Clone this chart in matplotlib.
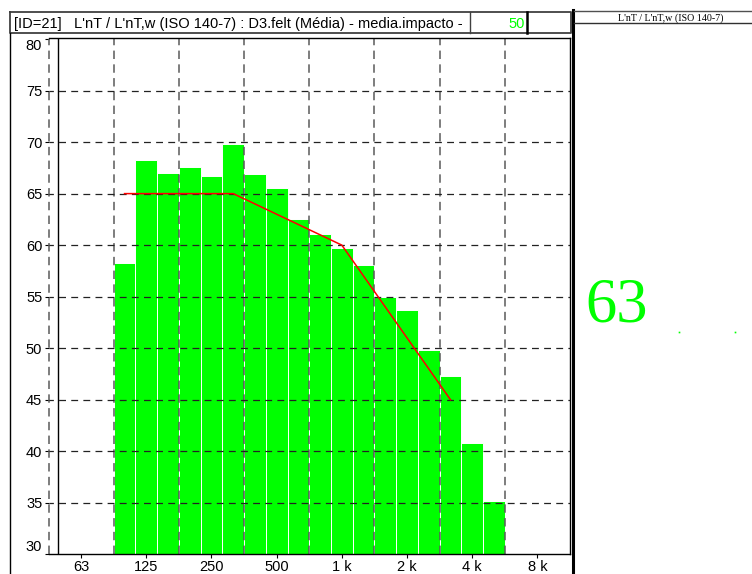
import numpy as np
import matplotlib.pyplot as plt
from matplotlib.ticker import FixedLocator, NullLocator

# third-octave bands 100 Hz .. 5 kHz (nominal names, index relative to 1 kHz)
bands = ['100', '125', '160', '200', '250', '315', '400', '500', '630',
         '800', '1000', '1250', '1600', '2000', '2500', '3150', '4000', '5000']
band_index = list(range(-10, 8))
levels = [58.3, 68.3, 67.0, 67.6, 66.7, 69.8, 66.9, 65.5, 62.5,
          61.1, 59.7, 58.1, 55.0, 53.7, 49.8, 47.3, 40.8, 35.2]

# shifted reference curve, 100 Hz .. 3150 Hz
ref_curve = [65, 65, 65, 65, 65, 65, 64, 63, 62, 61, 60, 57, 54, 51, 48, 45]

octave_index = list(range(-4, 4))
x_labels = ['63', '125', '250', '500', '1 k', '2 k', '4 k', '8 k']
y_ticks = [30, 35, 40, 45, 50, 55, 60, 65, 70, 75, 80]

title = "[ID=21]   L'nT / L'nT,w (ISO 140-7) : D3.felt (Média) - media.impacto -"
value_box = '50'
panel_title = "L'nT / L'nT,w (ISO 140-7)"
rating = '63'

GREEN = '#00ff00'
W, H = 752, 574

fc = 1000.0 * 2.0 ** (np.array(band_index) / 3.0)
f_oct = 1000.0 * 2.0 ** np.array(octave_index, dtype=float)
f_lo = f_oct[0] / np.sqrt(2)
f_hi = f_oct[-1] * np.sqrt(2)

fig = plt.figure(figsize=(W / 100, H / 100), dpi=100)
fig.patch.set_facecolor('white')

# main plot, placed in pixel units
ax_l, ax_r, ax_t, ax_b = 48.5, 570.0, 38.0, 554.3
ax = fig.add_axes([ax_l / W, 1 - ax_b / H, (ax_r - ax_l) / W, (ax_b - ax_t) / H])

left = fc * 2 ** (-1 / 6)
right = fc * 2 ** (1 / 6)
ax.bar(left, np.array(levels) - 30, width=right - left, bottom=30, align='edge',
       color=GREEN, edgecolor='white', linewidth=0.7, zorder=1)

# grid
edges = f_oct * 2 ** -0.5
ax.vlines(edges, 30, 80, colors='#5a5a5a', linestyles=(0, (5.5, 3.5)), linewidth=1.1,
          zorder=2, clip_on=False)
ax.hlines(y_ticks[1:-1], f_lo, f_hi, colors='#222222', linestyles=(2, (5.5, 4.2)),
          linewidth=0.9, zorder=2)
ax.axvline(49.0, color='black', linewidth=1.0, zorder=2)

ax.plot(fc[:len(ref_curve)], ref_curve, color='red', linewidth=1.1, zorder=3)

ax.set_xscale('log', base=2)
ax.set_xlim(f_lo, f_hi)
ax.set_ylim(30, 80.1)
ax.xaxis.set_major_locator(FixedLocator(f_oct))
ax.xaxis.set_minor_locator(NullLocator())
ax.set_xticklabels(x_labels)
ax.yaxis.set_major_locator(FixedLocator(y_ticks))
ax.set_yticklabels([str(v) for v in y_ticks])
ax.tick_params(length=3, width=0.8, pad=1.5, labelsize=10.5)
ax.tick_params(axis='x', pad=0.8)
for lab in ax.get_xticklabels() + ax.get_yticklabels():
    lab.set_family('Liberation Sans')
ylabs = ax.get_yticklabels()
ylabs[0].set_va('bottom')
ylabs[-1].set_va('top')
ax.spines['left'].set_visible(False)
for s in ['top', 'bottom', 'right']:
    ax.spines[s].set_linewidth(1.0)

# frame, header boxes and side panel drawn in pixel coords
ov = fig.add_axes([0, 0, 1, 1], zorder=-1)
ov.set_xlim(0, W)
ov.set_ylim(H, 0)
ov.axis('off')

ov.plot([9.5, 571, 571, 9.5, 9.5], [11.5, 11.5, 33.3, 33.3, 11.5], color='#404040', lw=1.3)
ov.plot([9.5, 9.5], [33.3, H], color='black', lw=1.0)
ov.plot([469.5, 469.5], [11.5, 33.3], color='#404040', lw=1.0)
ov.plot([526.5, 526.5], [11.5, 33.3], color='black', lw=1.8)
ov.plot([573.2, 573.2], [10.2, H], color='black', lw=2.2)
ov.plot([574, W], [10.8, 10.8], color='#505050', lw=1.0)
ov.plot([574, W], [22.8, 22.8], color='#303030', lw=1.0)

ov.text(14, 28, title, fontsize=10.5, family='Liberation Sans', ha='left', va='baseline')
ov.text(525, 28, value_box, fontsize=10.5, family='Liberation Sans', color=GREEN,
        ha='right', va='baseline')
ov.text(671, 20.5, panel_title, fontsize=7.2, family='Liberation Serif',
        ha='center', va='baseline')
ov.text(585, 322, rating, fontsize=45, family='Liberation Serif', color=GREEN,
        ha='left', va='baseline')
ov.plot([679, 735], [332, 332], linestyle='none', marker='s', markersize=1.2,
        color=GREEN, markeredgewidth=0)

fig.savefig('out.png', dpi=100, facecolor='white')
